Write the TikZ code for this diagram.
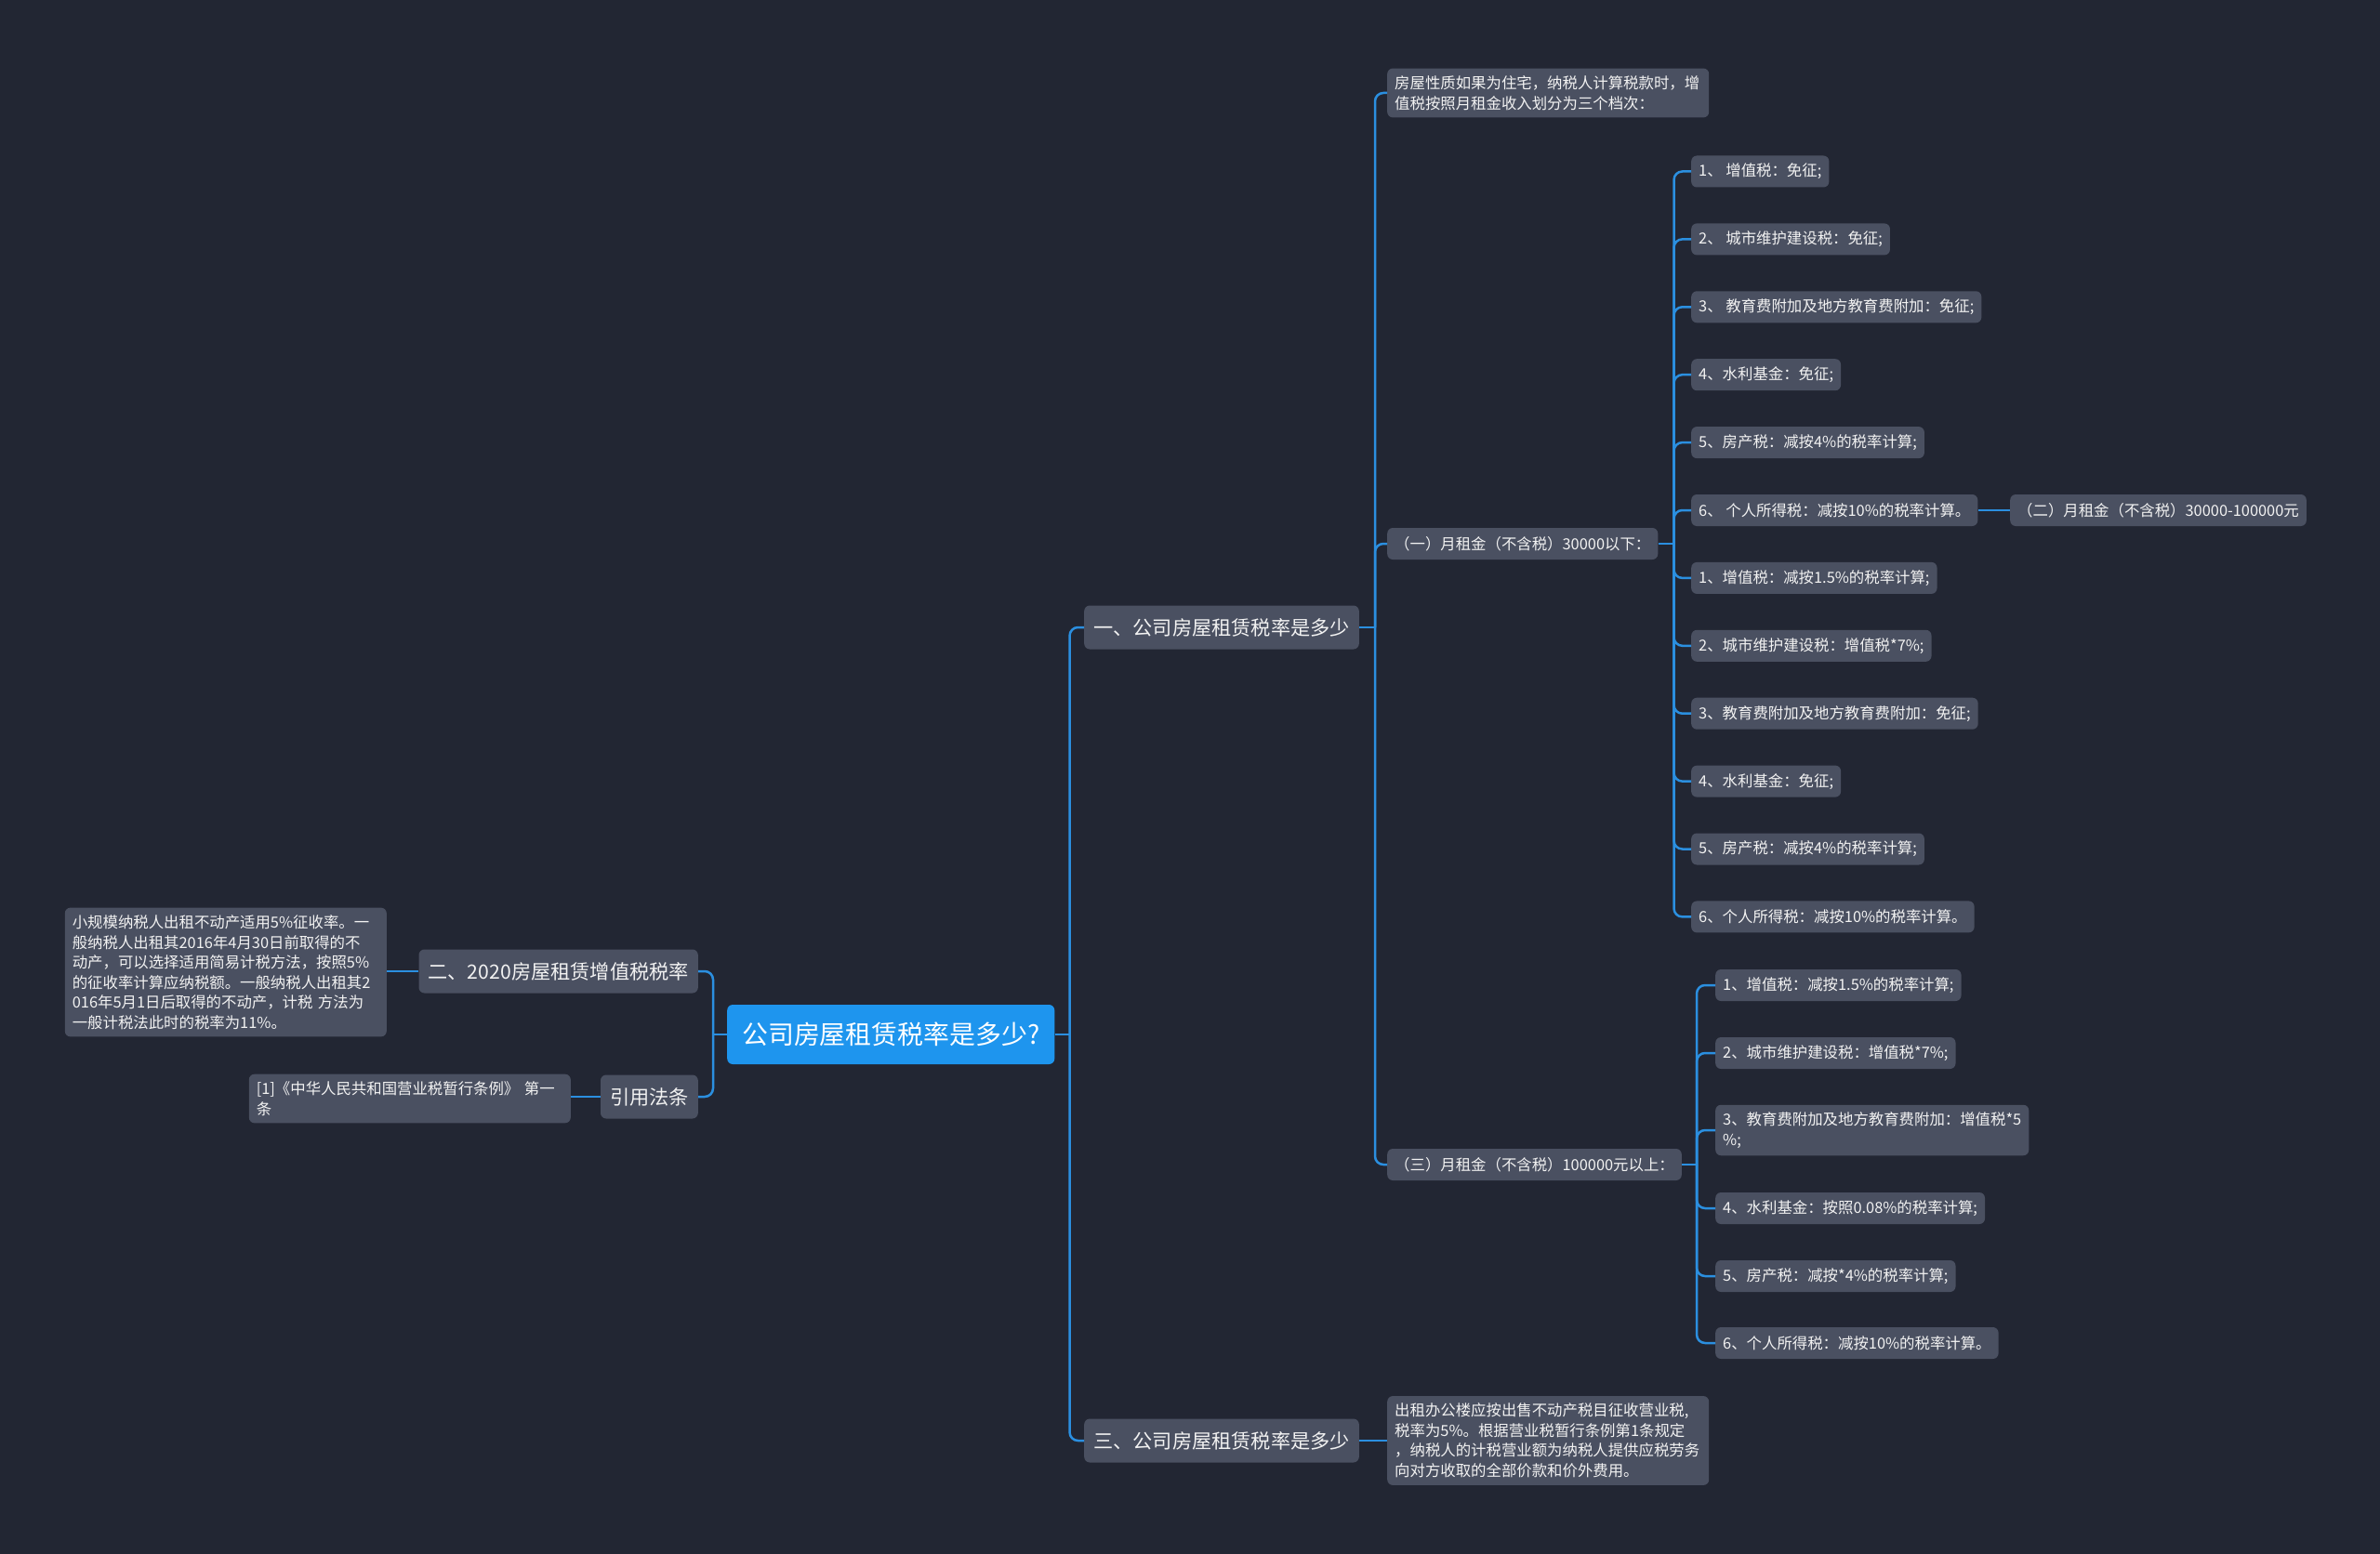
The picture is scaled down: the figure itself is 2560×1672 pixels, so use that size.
\documentclass[tikz,border=0pt]{standalone}
\usepackage{fontspec}
\setmainfont{Noto Sans CJK SC}
\usepackage{tikz}
\usetikzlibrary{positioning}

\definecolor{bgnavy}{HTML}{222633}
\definecolor{boxgray}{HTML}{4A5061}
\definecolor{rootblue}{HTML}{1E95EE}
\definecolor{linkblue}{HTML}{2B8FE0}
\definecolor{textwhite}{HTML}{F2F2F2}

\begin{document}
\begin{tikzpicture}[
  x=1pt, y=-1pt,
  leaf/.style={fill=boxgray, text=textwhite, rounded corners=6pt, inner xsep=8pt, inner ysep=0pt,
    minimum height=34pt, font=\fontsize{16.4}{21.5}\selectfont, align=left},
  note/.style={leaf, inner ysep=8pt, text width=330pt},
  topic/.style={leaf, inner xsep=10pt, minimum height=47pt, font=\fontsize{21.2}{26}\selectfont},
  rootbox/.style={leaf, fill=rootblue, text=white, inner xsep=16pt, minimum height=64pt,
    font=\fontsize{27.9}{32}\selectfont},
  link/.style={draw=linkblue, line width=2.5pt, rounded corners=9pt},
]

% --- Background ---
\fill[bgnavy] (0,0) rectangle (2560,1672);

% --- Root ---
\node[rootbox, anchor=west] (root) at (782,1113) {公司房屋租赁税率是多少?};

% --- Main topics ---
\node[topic, anchor=west] (rate1) at (1166,675) {一、公司房屋租赁税率是多少};
\node[topic, anchor=east] (rate2) at (751,1045) {二、2020房屋租赁增值税税率};
\node[topic, anchor=east] (lawref) at (751,1180) {引用法条};
\node[topic, anchor=west] (rate3) at (1166,1550) {三、公司房屋租赁税率是多少};

% --- Left side texts ---
\node[note, anchor=east] (rate2txt) at (416,1046) {小规模纳税人出租不动产适用5\%征收率。一\\般纳税人出租其2016年4月30日前取得的不\\动产，可以选择适用简易计税方法，按照5\%\\的征收率计算应纳税额。一般纳税人出租其2\\016年5月1日后取得的不动产，计税 方法为\\一般计税法此时的税率为11\%。};
\node[note, anchor=east] (lawtxt) at (614,1182) {[1]《中华人民共和国营业税暂行条例》 第一\\条};

% --- Branch one ---
\node[note, anchor=west] (house) at (1492,100) {房屋性质如果为住宅，纳税人计算税款时，增\\值税按照月租金收入划分为三个档次：};
\node[leaf, anchor=west] (tierA) at (1492,585) {（一）月租金（不含税）30000以下：};
\node[leaf, anchor=west] (tierC) at (1492,1253) {（三）月租金（不含税）100000元以上：};

% tier A items
\node[leaf, anchor=west] (a1) at (1819,184.5) {1、 增值税：免征;};
\node[leaf, anchor=west] (a2) at (1819,257.4) {2、 城市维护建设税：免征;};
\node[leaf, anchor=west] (a3) at (1819,330.3) {3、 教育费附加及地方教育费附加：免征;};
\node[leaf, anchor=west] (a4) at (1819,403.2) {4、水利基金：免征;};
\node[leaf, anchor=west] (a5) at (1819,476.1) {5、房产税：减按4\%的税率计算;};
\node[leaf, anchor=west] (a6) at (1819,549) {6、 个人所得税：减按10\%的税率计算。};
\node[leaf, anchor=west] (a7) at (1819,621.9) {1、增值税：减按1.5\%的税率计算;};
\node[leaf, anchor=west] (a8) at (1819,694.8) {2、城市维护建设税：增值税*7\%;};
\node[leaf, anchor=west] (a9) at (1819,767.7) {3、教育费附加及地方教育费附加：免征;};
\node[leaf, anchor=west] (a10) at (1819,840.6) {4、水利基金：免征;};
\node[leaf, anchor=west] (a11) at (1819,913.5) {5、房产税：减按4\%的税率计算;};
\node[leaf, anchor=west] (a12) at (1819,986.4) {6、个人所得税：减按10\%的税率计算。};
\node[leaf, anchor=west] (tierB) at (2162,549) {（二）月租金（不含税）30000-100000元};

% tier C items
\node[leaf, anchor=west] (c1) at (1845,1060) {1、增值税：减按1.5\%的税率计算;};
\node[leaf, anchor=west] (c2) at (1845,1133) {2、城市维护建设税：增值税*7\%;};
\node[leaf, anchor=west, inner ysep=8pt] (c3) at (1845,1216) {3、教育费附加及地方教育费附加：增值税*5\\\%;};
\node[leaf, anchor=west] (c4) at (1845,1300) {4、水利基金：按照0.08\%的税率计算;};
\node[leaf, anchor=west] (c5) at (1845,1373) {5、房产税：减按*4\%的税率计算;};
\node[leaf, anchor=west] (c6) at (1845,1445) {6、个人所得税：减按10\%的税率计算。};

% --- Branch three ---
\node[note, anchor=west] (office) at (1492,1550) {出租办公楼应按出售不动产税目征收营业税,\\税率为5\%。根据营业税暂行条例第1条规定\\，纳税人的计税营业额为纳税人提供应税劳务\\向对方收取的全部价款和价外费用。};

% --- Connectors ---
\draw[link] (root.west) -- ++(-15,0) coordinate (rootL);
\draw[link] (rootL) |- (rate2.east);
\draw[link] (rootL) |- (lawref.east);
\draw[link] (root.east) -- ++(16,0) coordinate (rootR);
\draw[link] (rootR) |- (rate1.west);
\draw[link] (rootR) |- (rate3.west);

\draw[link] (rate2.west) -- (rate2txt.east |- rate2.west);
\draw[link] (lawref.west) -- (lawtxt.east |- lawref.west);
\draw[link] (rate3.east) -- (office.west |- rate3.east);

\draw[link] (rate1.east) -- ++(17,0) coordinate (rate1R);
\draw[link] (rate1R) |- (house.west);
\draw[link] (rate1R) |- (tierA.west);
\draw[link] (rate1R) |- (tierC.west);

\draw[link] (tierA.east) -- ++(17,0) coordinate (tierAR);
\draw[link] (tierAR) |- (a1.west);
\draw[link] (tierAR) |- (a2.west);
\draw[link] (tierAR) |- (a3.west);
\draw[link] (tierAR) |- (a4.west);
\draw[link] (tierAR) |- (a5.west);
\draw[link] (tierAR) |- (a6.west);
\draw[link] (tierAR) |- (a7.west);
\draw[link] (tierAR) |- (a8.west);
\draw[link] (tierAR) |- (a9.west);
\draw[link] (tierAR) |- (a10.west);
\draw[link] (tierAR) |- (a11.west);
\draw[link] (tierAR) |- (a12.west);
\draw[link] (a6.east) -- (tierB.west);

\draw[link] (tierC.east) -- ++(16,0) coordinate (tierCR);
\draw[link] (tierCR) |- (c1.west);
\draw[link] (tierCR) |- (c2.west);
\draw[link] (tierCR) |- (c3.west);
\draw[link] (tierCR) |- (c4.west);
\draw[link] (tierCR) |- (c5.west);
\draw[link] (tierCR) |- (c6.west);

\end{tikzpicture}
\end{document}
